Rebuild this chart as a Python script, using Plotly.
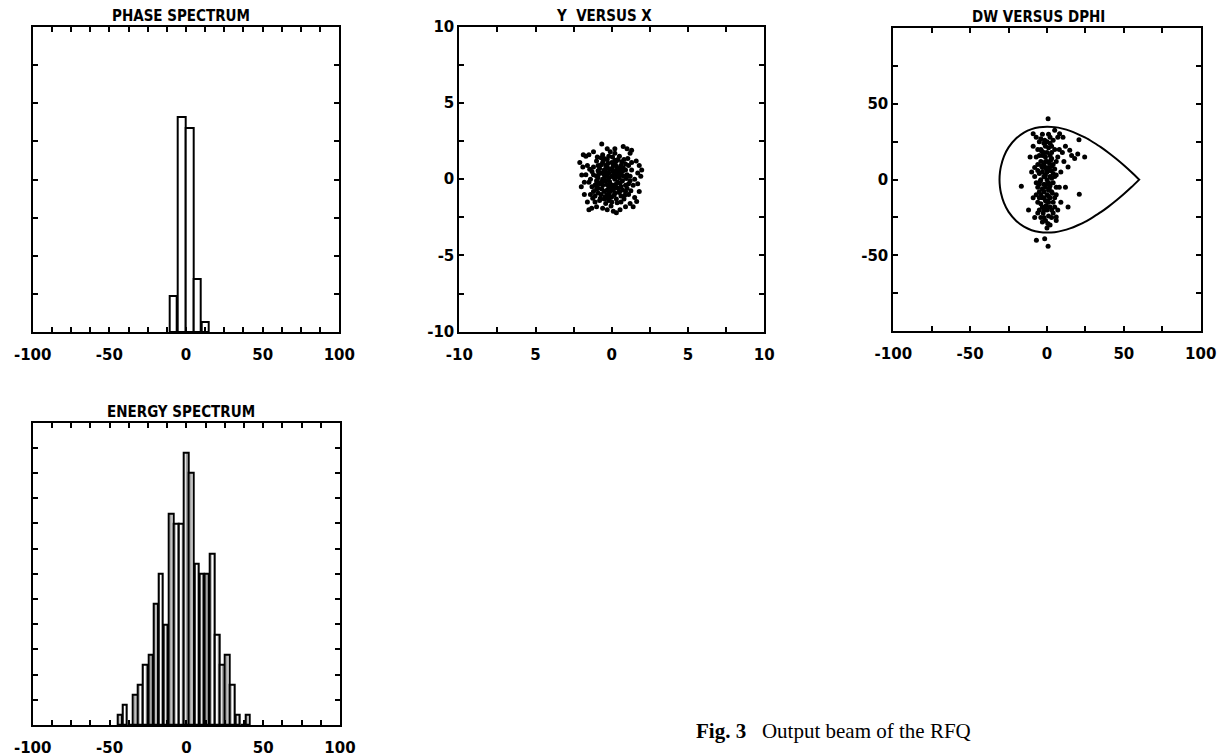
import plotly.graph_objects as go

# page window and the default 8px body margin of the html page
WIN_W, WIN_H = 1228, 756
OFF = 8
W, H = WIN_W - 2 * OFF, WIN_H - OFF

# ---------------- data ----------------
# Phase spectrum (bin centres in degrees, counts)
phase_centers = [-8.4, -2.8, 2.3, 7.4, 12.7]
phase_counts = [19, 113, 107, 28, 5]

# Energy spectrum (bin centres, counts)
energy_centers = [-43.33, -40.0, -36.67, -33.33, -30.0, -26.67, -23.33, -20.0, -16.67,
                  -13.33, -10.0, -6.67, -3.33, 0.0, 3.33, 6.67, 10.0, 13.33, 16.67,
                  20.0, 23.33, 26.67, 30.0, 33.33, 36.67, 40.0]
energy_counts = [1, 2, 0, 3, 4, 6, 7, 12, 15, 10, 21, 20, 20, 27, 25, 16, 15, 15, 17,
                 9, 6, 7, 4, 1, 0, 1]

# Y versus X (mm)
yx_x = [-0.2, 0.1, -0.5, 0.4, -0.8, 0.7, -0.3, 0.2, -1.0, 0.9,
        -0.6, 0.3, -1.2, 1.1, -0.1, 0.6, -0.9, 0.0, -0.4, 0.5,
        -1.3, 1.2, -0.7, 0.8, -0.2, 0.1, -0.6, 0.3, -1.1, 1.0,
        -0.4, 0.6, -0.9, 0.4, -0.1, 0.2, -0.7, 0.9, -1.4, 1.3,
        -0.5, 0.0, -0.3, 0.7, -1.0, 0.5, -0.8, 1.1, -0.2, 0.2,
        -1.2, -0.6, 0.3, 0.8, -0.4, 0.1, -0.9, 0.6, -0.1, 0.4,
        -1.5, 1.4, -0.7, 0.9, -0.3, 0.0, -1.1, 1.2, -0.5, 0.3,
        -0.8, 0.7, -0.2, 0.5, -1.3, 1.0, -0.6, 0.2, -0.4, 0.8,
        -1.6, 1.3, -1.0, 0.0, -0.3, 0.4, -0.9, 0.6, -0.1, 0.9,
        -1.4, 1.5, -0.5, 0.1, -0.7, 0.3, -1.2, 1.1, -0.2, 0.6,
        -0.66, 0.75, -1.87, -1.97, 1.96, -1.32, 1.63, 0.54,
        -1.7, -1.5, 1.0, 1.3, 1.2, 1.8, 1.9, 1.7, 1.8, 1.5, 1.2, 0.9,
        0.3, 0.1, -0.3, -0.6, -1.0, -1.5, -1.6, -1.8, -2.0, -1.9,
        -2.1, -1.2, -0.3, 0.2, 1.6, 1.7, 1.4, -1.1, -1.7, -1.8,
        -0.15, 0.25, -0.45, 0.55, -0.35, 0.05, -0.65, 0.15, -0.85, 0.75,
        -0.25, 0.45, -1.05, 0.95, -0.55, 0.35, -0.95, 1.05, -0.05, 0.65,
        -1.25, 1.25, -0.75, 0.85, -1.45, 0.05, -0.15, 0.55, -0.45, 0.25,
        -0.3, 0.0, -0.6, 0.3, -0.9, -0.2, 0.2, -0.5, -0.8, 0.5,
        -0.1, -0.4, 0.1, -0.7, 0.4, -1.0, -0.3, 0.0, -0.5, 0.2]
yx_y = [0.1, 0.3, 0.6, -0.2, -0.3, 0.5, -0.7, -0.9, 0.2, -0.4,
        1.1, 1.2, -0.8, 0.9, -1.2, -1.1, 0.9, 0.7, -0.1, 0.1,
        0.5, -0.1, -1.0, 1.3, 1.5, -0.4, 0.0, 0.6, -0.4, 0.3,
        0.9, 0.9, -0.6, -0.6, -0.8, 0.0, 0.4, -0.8, 0.0, 0.6,
        -1.3, -1.5, 1.3, -0.1, 1.2, 1.5, -1.4, -1.0, 0.4, 1.0,
        0.8, -0.4, -1.3, 0.2, 0.2, 0.9, 0.1, -0.5, -0.3, 0.4,
        -0.2, -0.4, 1.4, 1.0, -1.0, 1.1, -1.1, 0.2, 0.3, -0.3,
        0.7, -0.7, -0.5, 0.7, -0.5, -0.6, 1.6, 1.7, -1.6, -1.3,
        0.9, 1.1, -0.1, 0.2, 0.8, 1.3, -0.9, -1.5, 1.8, 0.6,
        -1.0, 0.0, -0.8, -0.7, -0.2, 0.2, 0.3, -0.3, -1.4, 0.3,
        2.31, 2.14, 1.6, 0.28, 0.61, -1.9, -1.47, -2.0,
        1.5, 1.6, 2.0, 1.9, 1.7, 0.9, 0.2, -0.3, -0.8, -1.2, -1.6, -1.8,
        -2.2, -2.1, -2.0, -1.9, -1.8, -2.0, -1.5, -1.0, -0.5, 0.8,
        1.1, 1.8, 2.0, 2.0, 1.2, 0.4, -1.8, -1.5, 0.3, -0.2,
        -0.15, 0.45, 0.45, -0.25, -0.35, 0.55, -0.65, -1.05, 0.35, 0.75,
        1.05, -0.85, -0.35, 0.05, 1.25, -1.55, 1.45, 1.35, -1.75, 1.15,
        -1.25, -0.75, -1.25, -1.05, 0.65, 1.45, 0.65, 0.55, -1.15, -0.55,
        0.25, -0.45, -0.15, 0.85, 0.55, -0.95, 1.05, 1.35, -0.25, -0.85,
        -0.55, 0.65, 0.15, 0.95, 0.35, -0.65, -1.25, -1.15, 0.05, 1.25]

# DW versus DPHI (particles)
dd_x = [0, -3, 2, -5, 4, -1, 1, -6, 3, -2, 5, -4, 0, -7, 6, -1, 2, -3, 1, -5,
        4, -2, 3, -6, 7, -1, 0, -4, 5, -3, 2, -8, 1, -2, 3, -5, 6, -1, 0, -4,
        2, -6, 4, -3, 1, -7, 5, -2, 3, -1, 0, -5, 6, -3, 2, -4, 1, -6, 4, -2,
        0, -1, 3, -3, 2, -5, 5, -2, 1, -4, 0, -7, 4, -1, 2, -6, 3, -3, 1, -2,
        0, -5, 4, -1, 2, -4, 5, -3, 1, -6, 3, -2, 0, -4, 6, -1, 2, -5, 3, -2,
        8, 10, 12, 7, 9, -9, -10, -8, -9, 8, 11, 7, -7, 6, -8, 9,
        0.7, -6.9, -1.5, 0.7, 20.8, 24.5, 20, 14.8, 13.7, 13.7, 21, -16.7,
        6, -9, 8.2, 10.4, 5, 16, 18, -12, -11, 12,
        -1.5, 1.5, -3.5, 0.5, -2.5, 2.5, -0.5, -4.5, 1.5, -1.5, 3.5, -2.5, 0.5, -3.5, 2.5, -0.5]
dd_y = [0, 5, -4, -8, 10, 15, -15, 20, 22, -20, -12, 12, 25, -2, 3, -27, 28, -12, 8, 25,
        -22, 2, -8, -15, 15, -5, 18, -25, 20, 30, -30, 8, -2, 10, 14, -3, -5, 22, -10, 0,
        6, 6, -15, -18, 30, 15, 2, -8, -25, 12, -20, 16, 12, -28, 16, -10, -7, -22, 26, 24,
        5, -14, 1, 8, -12, -12, -18, -3, 21, 20, -32, -10, 4, 3, -18, 10, 9, -6, -24, 18,
        12, 4, -2, -18, 24, -16, 7, 16, -11, -5, -20, -25, -3, 27, -10, 8, 2, -20, 18, -12,
        20, 18, 22, -20, -15, -12, 5, -25, 22, -5, 12, 28, 28, -27, 2, 5,
        40.3, -40, -39, -44, 26.4, 15, 17, 19.4, 8.4, -18, -9.7, -4.4,
        -24.6, 30.4, 30.4, 28, 32.6, 16, 14, -20, 15, -5,
        2, -6, 9, -14, 17, 6, -17, -1, 11, 26, -9, -22, -29, 19, 13, 7]

# Separatrix (upper half; lower half is its mirror image)
sep_phi = [-30.9, -30.6, -30.0, -28.0, -25.0, -20.0, -15.0, -10.0, -5.0, 0.0, 5.0,
           10.0, 15.0, 20.0, 25.0, 30.0, 35.0, 40.0, 45.0, 50.0, 55.0, 60.0]
sep_dw = [0.0, 4.9, 8.6, 15.4, 21.3, 27.3, 31.1, 33.4, 34.6, 35.0, 34.7,
          33.7, 32.2, 30.1, 27.7, 24.7, 21.5, 17.8, 13.8, 9.5, 4.9, 0.0]

# Tick labels
tick_100 = [-100, -50, 0, 50, 100]
tick_100_text = ["-100", "-50", "0", "50", "100"]
tick_10 = [-10, -5, 0, 5, 10]
tick_10_xtext = ["-10", "5", "0", "5", "10"]
tick_10_ytext = ["-10", "-5", "0", "5", "10"]
tick_50 = [-50, 0, 50]
tick_50_text = ["-50", "0", "50"]

titles = ["PHASE SPECTRUM", "Y  VERSUS X", "DW VERSUS DPHI", "ENERGY SPECTRUM"]

# ---------------- figure ----------------
# positions below are given in window pixels and converted to paper fractions
def px_x(p):
    return (p - OFF) / W

def px_y(p):
    return 1 - (p - OFF) / H

dom = {
    1: ([px_x(32.7), px_x(339.3)], [px_y(332), px_y(27)]),
    2: ([px_x(459.3), px_x(764.3)], [px_y(331.7), px_y(26.7)]),
    3: ([px_x(893.3), px_x(1200.7)], [px_y(331), px_y(28.3)]),
    4: ([px_x(32.7), px_x(340)], [px_y(725), px_y(422.7)]),
}

lab_font = dict(family="DejaVu Sans, Liberation Sans, Arial", size=15, color="black", weight="bold")
title_font = dict(family="Liberation Sans Narrow, DejaVu Sans Condensed, Arial Narrow, sans-serif",
                  size=15, color="black", weight="bold")

def axis(domain, rng, anchor, tickvals=None, ticktext=None, minor_dtick=None, show_labels=True, dtick=None):
    a = dict(domain=domain, range=rng, anchor=anchor, showline=True, linecolor="black",
             linewidth=2, mirror="ticks", ticks="inside", ticklen=5, tickwidth=1.5,
             tickcolor="black", showgrid=False, zeroline=False, fixedrange=True,
             tickfont=lab_font, showticklabels=show_labels, automargin=False)
    if tickvals is not None:
        a.update(tickmode="array", tickvals=tickvals, ticktext=ticktext)
    if dtick is not None:
        a.update(tickmode="linear", tick0=rng[0], dtick=dtick)
    if minor_dtick is not None:
        a["minor"] = dict(ticks="inside", ticklen=5, tickwidth=1.5, tickcolor="black",
                          dtick=minor_dtick, tick0=rng[0], showgrid=False)
    return a

fig = go.Figure()

bar_line = dict(color="black", width=2)

fig.add_trace(go.Bar(x=phase_centers, y=phase_counts, width=4.8,
                     marker=dict(color="white", line=bar_line),
                     xaxis="x", yaxis="y", showlegend=False))

fig.add_trace(go.Scatter(x=yx_x, y=yx_y, mode="markers",
                         marker=dict(color="black", size=5),
                         xaxis="x2", yaxis="y2", showlegend=False))

sep_x = sep_phi + sep_phi[::-1]
sep_y = sep_dw + [-v for v in sep_dw[::-1]]
fig.add_trace(go.Scatter(x=sep_x, y=sep_y, mode="lines",
                         line=dict(color="black", width=2, shape="spline", smoothing=0.6),
                         xaxis="x3", yaxis="y3", showlegend=False))
fig.add_trace(go.Scatter(x=dd_x, y=dd_y, mode="markers",
                         marker=dict(color="black", size=5),
                         xaxis="x3", yaxis="y3", showlegend=False))

fig.add_trace(go.Bar(x=energy_centers, y=energy_counts, width=3.0,
                     marker=dict(color="white", line=bar_line,
                                 pattern=dict(shape="|", fgcolor="black", bgcolor="white",
                                              size=4, solidity=0.35)),
                     xaxis="x4", yaxis="y4", showlegend=False))

fig.update_layout(
    width=W, height=H, margin=dict(l=0, r=0, t=0, b=0, autoexpand=False),
    paper_bgcolor="white", plot_bgcolor="white", bargap=0,
    xaxis=axis(dom[1][0], [-100, 100], "y", tick_100, tick_100_text, 12.5),
    yaxis=axis(dom[1][1], [0, 160], "x", show_labels=False, dtick=20),
    xaxis2=axis(dom[2][0], [-10, 10], "y2", tick_10, tick_10_xtext, 2.5),
    yaxis2=axis(dom[2][1], [-10, 10], "x2", tick_10, tick_10_ytext, 2.5),
    xaxis3=axis(dom[3][0], [-100, 100], "y3", tick_100, tick_100_text, 25),
    yaxis3=axis(dom[3][1], [-100, 100], "x3", tick_50, tick_50_text, 25),
    xaxis4=axis(dom[4][0], [-100, 100], "y4", tick_100, tick_100_text, 12.5),
    yaxis4=axis(dom[4][1], [0, 30], "x4", show_labels=False, dtick=2.5),
)

for ax in ["xaxis", "xaxis2", "xaxis3", "xaxis4"]:
    fig.layout[ax].ticklabelstandoff = 8

title_pos = [(181, 27), (604, 26.7), (1038, 28.3), (181, 422.7)]
for t, (cx, by) in zip(titles, title_pos):
    fig.add_annotation(text=t, xref="paper", yref="paper", x=px_x(cx), y=px_y(by),
                       xanchor="center", yanchor="bottom", showarrow=False,
                       font=title_font, yshift=0)

fig.add_annotation(text="<b>Fig. 3</b>   Output beam of the RFQ", xref="paper", yref="paper",
                   x=px_x(694), y=px_y(731), xanchor="left", yanchor="middle",
                   showarrow=False,
                   font=dict(family="Liberation Serif, Times New Roman, serif", size=21,
                             color="black"))

fig.write_html("out.html")
